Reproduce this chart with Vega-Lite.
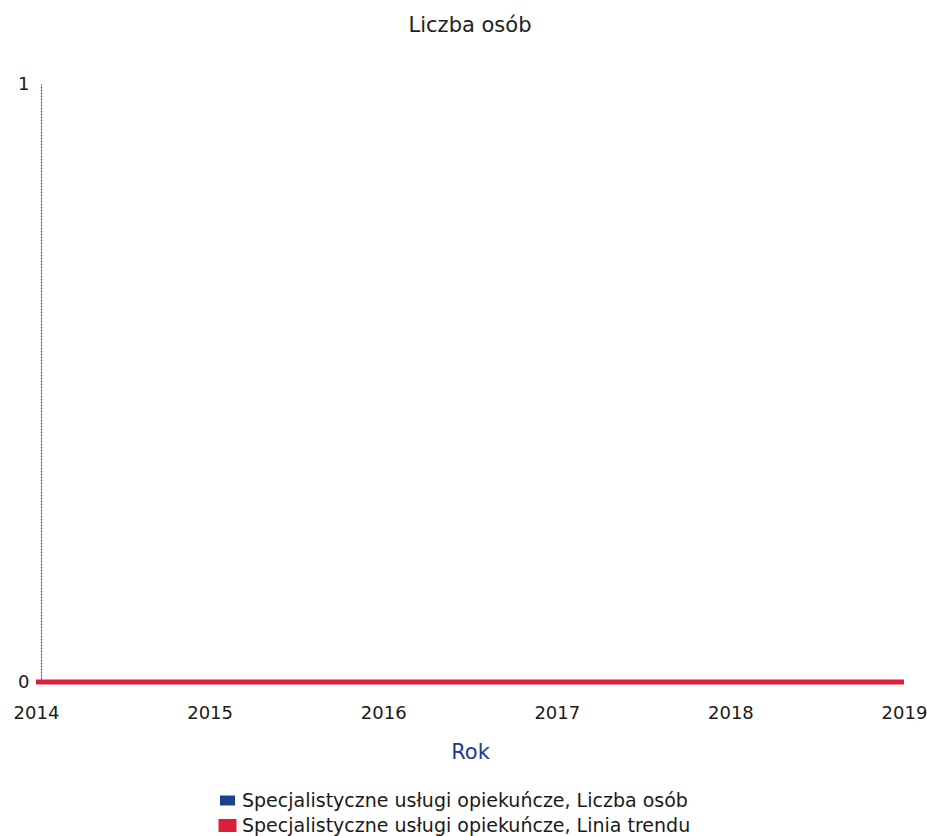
{
  "$schema": "https://vega.github.io/schema/vega-lite/v6.json",
  "autosize": {"type": "none"},
  "width": 868,
  "height": 598,
  "padding": {"left": 36, "top": 84, "right": 23, "bottom": 154},
  "background": "white",
  "config": {
    "font": "DejaVu Sans",
    "view": {"stroke": null}
  },
  "title": {
    "text": "Liczba osób",
    "fontSize": 21,
    "fontWeight": "normal",
    "color": "#222222",
    "offset": 39,
    "anchor": "middle"
  },
  "data": {
    "values": [
      {"rok": 2014, "seria": "Specjalistyczne usługi opiekuńcze, Liczba osób", "wartosc": 0},
      {"rok": 2015, "seria": "Specjalistyczne usługi opiekuńcze, Liczba osób", "wartosc": 0},
      {"rok": 2016, "seria": "Specjalistyczne usługi opiekuńcze, Liczba osób", "wartosc": 0},
      {"rok": 2017, "seria": "Specjalistyczne usługi opiekuńcze, Liczba osób", "wartosc": 0},
      {"rok": 2018, "seria": "Specjalistyczne usługi opiekuńcze, Liczba osób", "wartosc": 0},
      {"rok": 2019, "seria": "Specjalistyczne usługi opiekuńcze, Liczba osób", "wartosc": 0},
      {"rok": 2014, "seria": "Specjalistyczne usługi opiekuńcze, Linia trendu", "wartosc": 0},
      {"rok": 2015, "seria": "Specjalistyczne usługi opiekuńcze, Linia trendu", "wartosc": 0},
      {"rok": 2016, "seria": "Specjalistyczne usługi opiekuńcze, Linia trendu", "wartosc": 0},
      {"rok": 2017, "seria": "Specjalistyczne usługi opiekuńcze, Linia trendu", "wartosc": 0},
      {"rok": 2018, "seria": "Specjalistyczne usługi opiekuńcze, Linia trendu", "wartosc": 0},
      {"rok": 2019, "seria": "Specjalistyczne usługi opiekuńcze, Linia trendu", "wartosc": 0}
    ]
  },
  "mark": {"type": "line", "clip": false},
  "encoding": {
    "x": {
      "field": "rok",
      "type": "quantitative",
      "scale": {"domain": [2014, 2019], "nice": false, "zero": false},
      "axis": {
        "title": "Rok",
        "titleFontSize": 21,
        "titleFontWeight": "normal",
        "titleColor": "#1f3a93",
        "titlePadding": 19,
        "values": [2014, 2015, 2016, 2017, 2018, 2019],
        "format": "d",
        "labelFontSize": 18,
        "labelColor": "#1a1a1a",
        "labelPadding": 22,
        "labelFlush": false,
        "labelOverlap": false,
        "domain": false,
        "ticks": false,
        "grid": false
      }
    },
    "y": {
      "field": "wartosc",
      "type": "quantitative",
      "scale": {"domain": [0, 1], "nice": false},
      "axis": {
        "title": null,
        "values": [0, 1],
        "format": "d",
        "labelFontSize": 18,
        "labelColor": "#1a1a1a",
        "labelPadding": 12,
        "offset": -5,
        "domainColor": "#3a3ad8",
        "domainWidth": 1.2,
        "domainDash": [2, 1],
        "ticks": false,
        "grid": false
      }
    },
    "color": {
      "field": "seria",
      "type": "nominal",
      "scale": {
        "domain": ["Specjalistyczne usługi opiekuńcze, Liczba osób", "Specjalistyczne usługi opiekuńcze, Linia trendu"],
        "range": ["#1f3f8f", "#dc1f3a"]
      },
      "legend": {
        "title": null,
        "orient": "none",
        "legendX": 182,
        "legendY": 707,
        "labelFontSize": 19,
        "labelColor": "#1a1a1a",
        "labelLimit": 700,
        "rowPadding": 0,
        "symbolType": "M-1,-0.6H1V0.6H-1Z",
        "symbolSize": 170,
        "symbolStrokeWidth": 0,
        "labelOffset": 5,
        "encode": {
          "symbols": {
            "update": {
              "fill": {"scale": "color", "field": "value"},
              "strokeWidth": {"value": 0}
            }
          }
        }
      }
    },
    "strokeWidth": {
      "field": "seria",
      "type": "nominal",
      "scale": {
        "domain": ["Specjalistyczne usługi opiekuńcze, Liczba osób", "Specjalistyczne usługi opiekuńcze, Linia trendu"],
        "range": [2, 5]
      },
      "legend": null
    }
  }
}
